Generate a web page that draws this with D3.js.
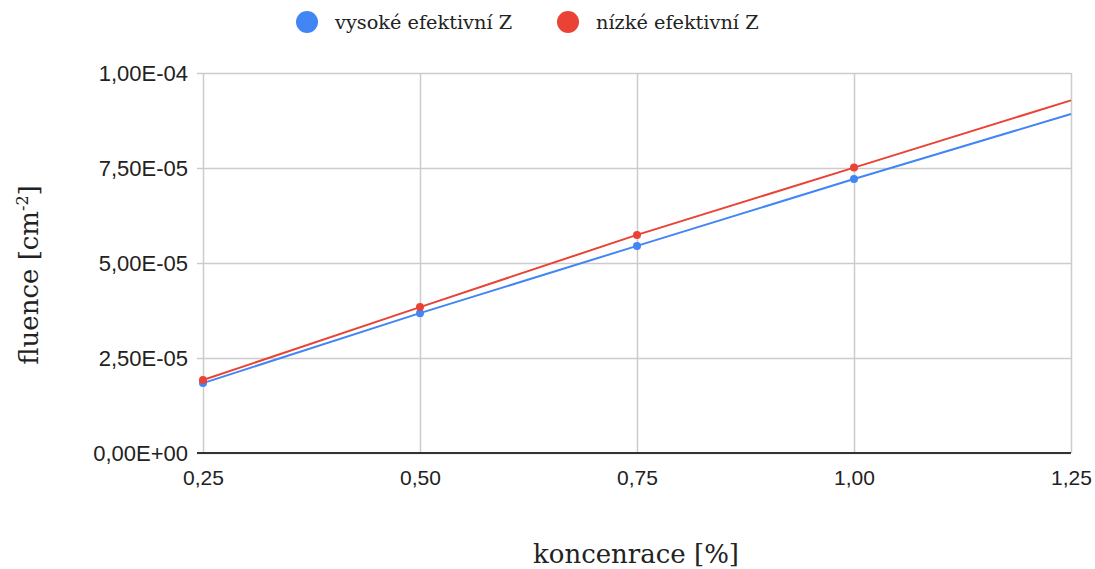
<!DOCTYPE html>
<html><head><meta charset="utf-8">
<script src="https://cdn.jsdelivr.net/npm/d3@7"></script>
<style>body{margin:0;background:#fff}svg{display:block}</style>
</head><body>
<svg id="c" width="1095" height="569"></svg>
<script>
const xValues = [0.25, 0.5, 0.75, 1.0, 1.25];
const seriesNames = ["vysoké efektivní Z", "nízké efektivní Z"];
const highZ = [1.84e-5, 3.68e-5, 5.45e-5, 7.21e-5, 8.92e-5];
const lowZ = [1.92e-5, 3.84e-5, 5.74e-5, 7.51e-5, 9.28e-5];
const markerCount = 4;
const xTicks = [0.25, 0.5, 0.75, 1.0, 1.25];
const yTicks = [0, 2.5e-5, 5e-5, 7.5e-5, 1e-4];
const yTickLabels = ["0,00E+00", "2,50E-05", "5,00E-05", "7,50E-05", "1,00E-04"];
const colors = ["#4285F4", "#EA4335"];

const svg = d3.select("#c");
const m = {l: 203, r: 1071, t: 73, b: 453};
const x = d3.scaleLinear().domain([0.25, 1.25]).range([m.l, m.r]);
const y = d3.scaleLinear().domain([0, 1e-4]).range([m.b, m.t]);
const serif = "'DejaVu Serif', Georgia, serif";
const sans = "'Liberation Sans', Arial, sans-serif";

// grid
const gy = svg.append("g").attr("transform", `translate(${m.l},0)`)
  .call(d3.axisLeft(y).tickValues(yTicks).tickSize(-(m.r - m.l)).tickPadding(15)
    .tickFormat((d, i) => yTickLabels[i]));
gy.select(".domain").remove();
gy.selectAll(".tick line").attr("stroke", "#cccccc").attr("stroke-width", 1.5).attr("x1", -6);
gy.selectAll(".tick text").attr("font-family", sans).attr("font-size", 22).attr("fill", "#222");

const gx = svg.append("g").attr("transform", `translate(0,${m.b})`)
  .call(d3.axisBottom(x).tickValues(xTicks).tickSize(-(m.b - m.t)).tickPadding(17)
    .tickFormat(d => d3.format(".2f")(d).replace(".", ",")));
gx.select(".domain").remove();
gx.selectAll(".tick line").attr("stroke", "#cccccc").attr("stroke-width", 1.5);
gx.selectAll(".tick text").attr("font-family", sans).attr("font-size", 21).attr("fill", "#222");

// baseline
svg.append("line").attr("x1", m.l - 6).attr("x2", m.r).attr("y1", y(0)).attr("y2", y(0))
  .attr("stroke", "#333").attr("stroke-width", 2);

// series
const line = d3.line().x((d, i) => x(xValues[i])).y(d => y(d));
[highZ, lowZ].forEach((s, k) => {
  svg.append("path").attr("d", line(s)).attr("fill", "none")
    .attr("stroke", colors[k]).attr("stroke-width", 2);
  svg.append("g").selectAll("circle").data(s.slice(0, markerCount)).join("circle")
    .attr("cx", (d, i) => x(xValues[i])).attr("cy", d => y(d)).attr("r", 4)
    .attr("fill", colors[k]);
});

// legend
const legX = [307, 568];
seriesNames.forEach((n, k) => {
  svg.append("circle").attr("cx", legX[k]).attr("cy", 22).attr("r", 11).attr("fill", colors[k]);
  svg.append("text").attr("x", legX[k] + 28).attr("y", 29).text(n)
    .attr("font-family", serif).attr("font-size", 19.3).attr("fill", "#222");
});

// axis titles
svg.append("text").attr("x", 636).attr("y", 563).attr("text-anchor", "middle")
  .attr("font-family", serif).attr("font-size", 26).attr("fill", "#222").text("koncenrace [%]");
const yt = svg.append("text").attr("transform", "translate(38,275) rotate(-90)")
  .attr("text-anchor", "middle").attr("font-family", serif).attr("font-size", 26).attr("fill", "#222");
yt.append("tspan").text("fluence [cm");
yt.append("tspan").attr("font-size", 16).attr("dy", -10).text("-2");
yt.append("tspan").attr("dy", 10).text("]");
</script>
</body></html>
